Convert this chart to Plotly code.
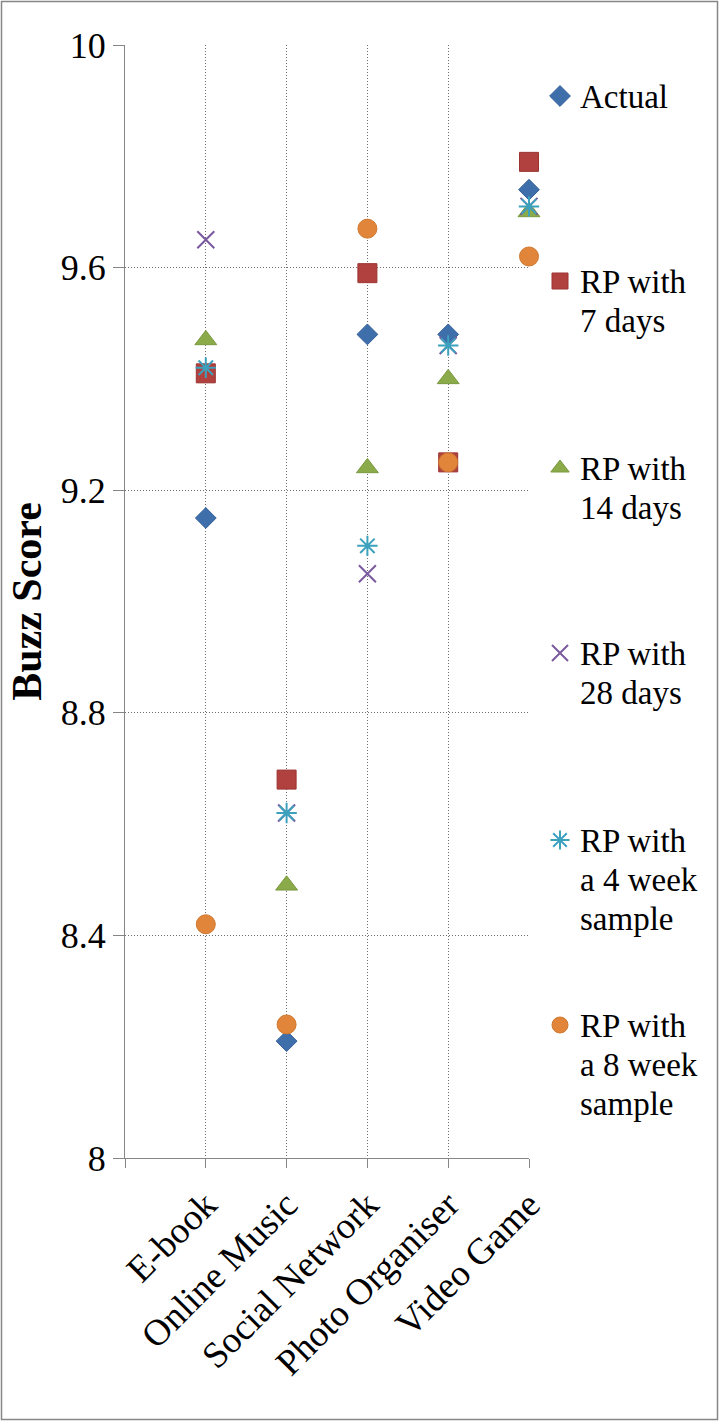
import plotly.graph_objects as go

categories = ["E-book", "Online Music", "Social Network", "Photo Organiser", "Video Game"]
actual = [9.15, 8.21, 9.48, 9.48, 9.74]
rp_7_days = [9.41, 8.68, 9.59, 9.25, 9.79]
rp_14_days = [9.47, 8.49, 9.24, 9.40, 9.70]
rp_28_days = [9.65, 8.62, 9.05, 9.46, 9.71]
rp_4_week = [9.42, 8.62, 9.10, 9.46, 9.71]
rp_8_week = [8.42, 8.24, 9.67, 9.25, 9.62]
y_ticks = [8, 8.4, 8.8, 9.2, 9.6, 10]

series_lines = [["Actual"], ["RP with", "7 days"], ["RP with", "14 days"], ["RP with", "28 days"],
                ["RP with", "a 4 week", "sample"], ["RP with", "a 8 week", "sample"]]
series_values = [actual, rp_7_days, rp_14_days, rp_28_days, rp_4_week, rp_8_week]

FONT = "Liberation Serif, DejaVu Serif, serif"
W, H = 719, 1421
L, R, T, B = 125, 190, 45, 263
PW, PH = W - L - R, H - T - B

styles = [
    dict(symbol="diamond", size=16, color="#3F6FAA", line=dict(width=1, color="#36609A")),
    dict(symbol="square", size=19, color="#B0413E", line=dict(width=1, color="#9A3532")),
    dict(symbol="triangle-up", size=19, color="#8BAA4A", line=dict(width=1, color="#7A9940")),
    dict(symbol="x-thin-open", size=17, color="#7A5A9F", line=dict(width=2, color="#7A5A9F")),
    dict(symbol="asterisk-open", size=17, color="#3CA1BC", line=dict(width=2, color="#3CA1BC")),
    dict(symbol="circle", size=19, color="#E0853A", line=dict(width=1, color="#D07830")),
]

xpos = list(range(1, len(categories) + 1))


def legend_label(lines):
    return "<br>".join(f'<span style="font-size:33px">{ln}</span>' for ln in lines)


fig = go.Figure()
legend_tops_px = [70, 255, 442, 627, 814, 999]
legend_ids = ["legend"] + [f"legend{i}" for i in range(2, 7)]
for i, (lines, vals, st) in enumerate(zip(series_lines, series_values, styles)):
    fig.add_trace(go.Scatter(
        x=xpos, y=vals, mode="markers", name=legend_label(lines),
        marker=st, legend=legend_ids[i], showlegend=True, cliponaxis=False,
    ))

layout_legends = {}
for i, lid in enumerate(legend_ids):
    layout_legends[lid] = dict(
        x=(540 - L) / PW, y=(H - B - legend_tops_px[i]) / PH,
        xanchor="left", yanchor="top",
        font=dict(family=FONT, size=30, color="black"),
        valign="top", bgcolor="rgba(0,0,0,0)", borderwidth=0,
        itemwidth=30,
    )

grid_dash = "1px,2px"
fig.update_layout(
    width=W, height=H,
    margin=dict(l=L, r=R, t=T, b=B, autoexpand=False),
    paper_bgcolor="white", plot_bgcolor="white",
    font=dict(family=FONT, color="black"),
    **layout_legends,
    xaxis=dict(
        range=[0, len(categories)],
        tickvals=[0] + xpos, ticktext=[""] + categories,
        tickangle=-45, tickfont=dict(family=FONT, size=37, color="black"),
        ticks="outside", ticklen=9, tickcolor="#868686", tickwidth=1.3,
        showline=True, linecolor="#868686", linewidth=1.3,
        showgrid=True, gridcolor="#6E6E6E", griddash=grid_dash, gridwidth=1,
        zeroline=False, automargin=False,
    ),
    yaxis=dict(
        range=[8, 10], tickvals=y_ticks,
        tickfont=dict(family=FONT, size=36, color="black"),
        ticks="outside", ticklen=11, tickcolor="#868686", tickwidth=1.3,
        showline=True, linecolor="#868686", linewidth=1.3,
        showgrid=True, gridcolor="#6E6E6E", griddash=grid_dash, gridwidth=1,
        zeroline=False, automargin=False,
        title=dict(text="<b>Buzz Score</b>", font=dict(family=FONT, size=42, color="black"), standoff=5),
    ),
    shapes=[dict(type="rect", xref="paper", yref="paper",
                 x0=(1.5 - L) / PW, x1=(W - 1.5 - L) / PW,
                 y0=(H - B - (H - 1.5)) / PH, y1=(H - B - 1.5) / PH,
                 line=dict(color="#868686", width=1.5), fillcolor="rgba(0,0,0,0)", layer="below")],
)

fig.write_html("out.html", config={"displayModeBar": False},
               post_script="document.body.style.margin='0';document.body.style.overflow='hidden';")
